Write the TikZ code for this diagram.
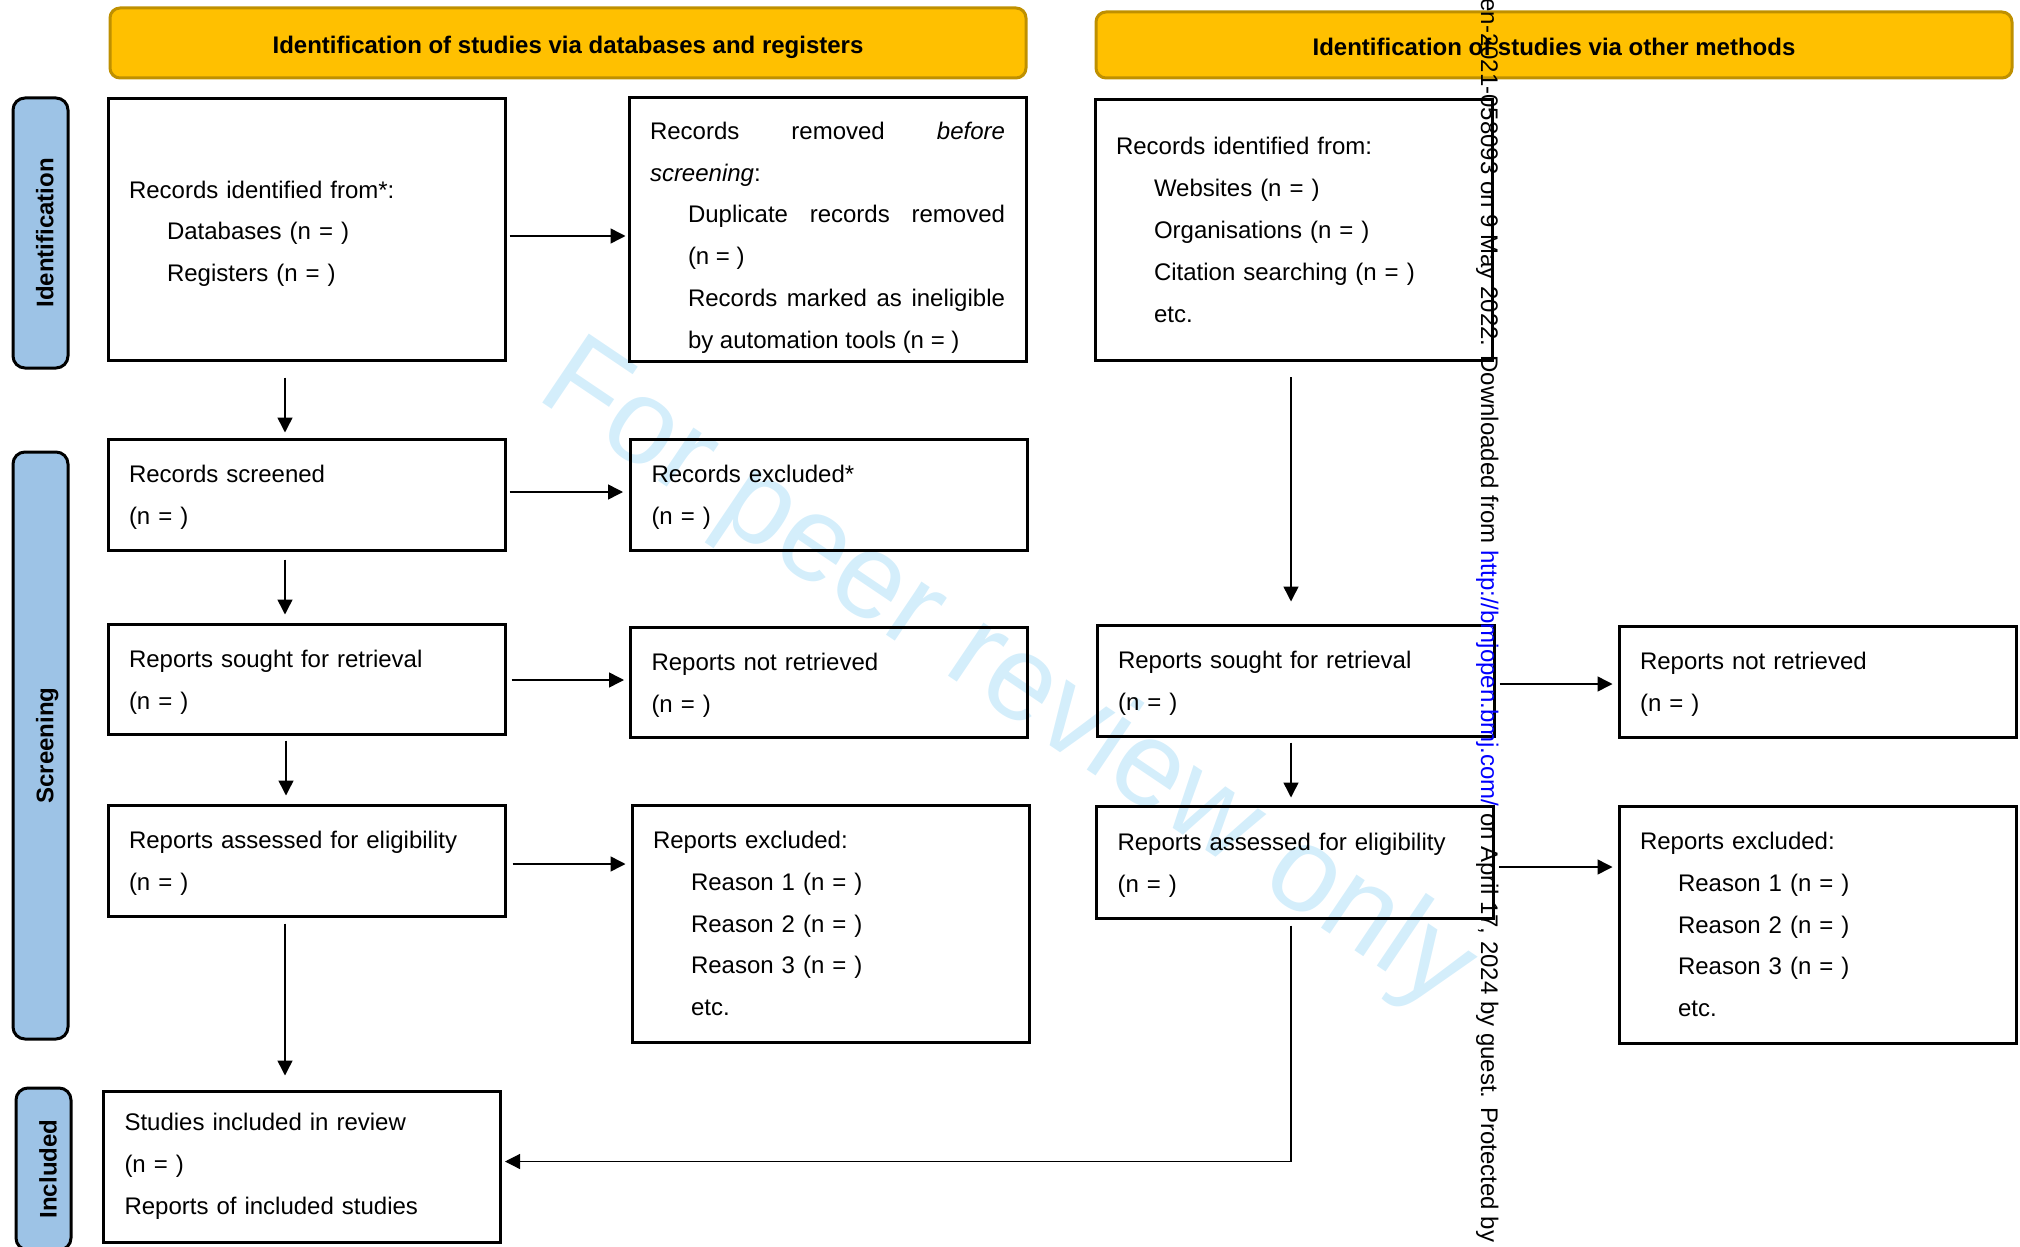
\documentclass[tikz,border=0pt]{standalone}
\usepackage{fontspec}
\setmainfont{Liberation Sans}
\usetikzlibrary{arrows.meta}
\definecolor{HeaderGold}{HTML}{FFC000}
\definecolor{HeaderEdge}{HTML}{BF9000}
\definecolor{PhaseBlue}{HTML}{9DC3E6}
\definecolor{StampBlue}{HTML}{D4EEFB}
\setlength{\parindent}{0pt}
\hyphenpenalty=10000
\exhyphenpenalty=10000
\tolerance=10000
\newcommand{\indented}[1]{\hspace*{19pt}#1}

\begin{document}
\begin{tikzpicture}[x=0.5pt, y=-0.5pt,
    box/.style={draw, line width=1.5pt, text width=177.5pt, inner xsep=10.5pt, inner ysep=4pt, align=left, font=\fontsize{12pt}{20.9pt}\selectfont},
    nudge/.style={execute at begin node={\rule{0pt}{#1}}},
    header/.style={draw=HeaderEdge, fill=HeaderGold, line width=1.5pt, rounded corners=5pt, minimum width=458pt, text height=12.8pt, text depth=2.6pt, font=\bfseries\fontsize{12pt}{14pt}\selectfont},
    phase/.style={draw, fill=PhaseBlue, line width=1.5pt, rounded corners=6pt, rotate=90, minimum height=27.5pt, text height=13pt, text depth=0pt, font=\bfseries\fontsize{12pt}{14pt}\selectfont},
    arr/.style={-{Triangle[length=7.5pt,width=7.5pt]}, line width=0.75pt},
    stamp/.style={text=StampBlue, rotate=-34, font=\fontsize{60.5pt}{62pt}\selectfont}
  ]
  \useasboundingbox (0,0) rectangle (2020,1247);

  % watermark behind everything
  \node[stamp] (stampNote) at (1006,678) {For peer review only};

  % headers and phase labels
  \node[header, minimum height=35pt] (headDb) at (568,43) {Identification of studies via databases and registers};
  \node[header, minimum height=33pt] (headOther) at (1554,45) {Identification of studies via other methods};

  \node[phase, minimum width=135pt] (phaseId) at (40.5,233) {Identification};
  \node[phase, minimum width=293.5pt] (phaseScreen) at (40.5,745.5) {Screening};
  \node[phase, minimum width=81pt] (phaseIncl) at (43.5,1169) {Included};

  % databases and registers
  \node[box, nudge=12.8pt, minimum height=130.5pt] (recId) at (306.5,229.5) {Records identified from*:\\ \indented{Databases (n = )}\\ \indented{Registers (n = )}};
  \node[box, nudge=16.8pt, align=justify, minimum height=130.5pt] (recRemoved) at (827.5,229.5) {Records removed \textit{before screening}:\par
    {\leftskip=19pt Duplicate records removed (n~=~)\par
    Records marked as ineligible by automation tools (n~=~)\par}};
  \node[box, nudge=11.8pt, minimum height=55.5pt] (recScreened) at (306.5,494.5) {Records screened\\(n = )};
  \node[box, nudge=11.8pt, minimum height=55.5pt] (recExcluded) at (829,494.5) {Records excluded*\\(n = )};
  \node[box, nudge=11.8pt, minimum height=55pt] (repSought) at (306.5,679) {Reports sought for retrieval\\(n = )};
  \node[box, nudge=11.8pt, minimum height=55pt] (repNotRet) at (829,682) {Reports not retrieved\\(n = )};
  \node[box, nudge=11.8pt, minimum height=55.5pt] (repAssessed) at (306.5,860.5) {Reports assessed for eligibility\\(n = )};
  \node[box, minimum height=118.5pt] (repExcluded) at (830.5,923.5) {Reports excluded:\\ \indented{Reason 1 (n = )}\\ \indented{Reason 2 (n = )}\\ \indented{Reason 3 (n = )}\\ \indented{etc.}};
  \node[box, minimum height=75.5pt] (included) at (302,1166.5) {Studies included in review\\(n = )\\Reports of included studies};

  % other methods
  \node[box, minimum height=130.5pt] (othId) at (1293.5,230) {Records identified from:\\ \indented{Websites (n = )}\\ \indented{Organisations (n = )}\\ \indented{Citation searching (n = )}\\ \indented{etc.}};
  \node[box, nudge=11.8pt, minimum height=55.5pt] (othSought) at (1295.5,680.5) {Reports sought for retrieval\\(n = )};
  \node[box, nudge=11.8pt, minimum height=55.5pt] (othNotRet) at (1817.5,681.5) {Reports not retrieved\\(n = )};
  \node[box, nudge=11.8pt, minimum height=56pt] (othAssessed) at (1295,862) {Reports assessed for eligibility\\(n = )};
  \node[box, minimum height=118.5pt] (othExcluded) at (1817.5,924.5) {Reports excluded:\\ \indented{Reason 1 (n = )}\\ \indented{Reason 2 (n = )}\\ \indented{Reason 3 (n = )}\\ \indented{etc.}};

  % connectors
  \draw[arr] ([xshift=1.5pt,yshift=-3.25pt]recId.east) -- ([xshift=-1pt,yshift=-3.25pt]recRemoved.west);
  \draw[arr] ([xshift=1.5pt,yshift=1.25pt]recScreened.east) -- ([xshift=-3pt,yshift=1.25pt]recExcluded.west);
  \draw[arr] ([xshift=2.5pt,yshift=-0.5pt]repSought.east) -- ([xshift=-2.5pt,yshift=1pt]repNotRet.west);
  \draw[arr] ([xshift=3pt,yshift=-1.75pt]repAssessed.east) -- ([xshift=-2.5pt,yshift=29.75pt]repExcluded.west);
  \draw[arr] ([xshift=-10.75pt,yshift=-8pt]recId.south) -- ([xshift=-10.75pt,yshift=2.5pt]recScreened.north);
  \draw[arr] ([xshift=-10.75pt,yshift=-4pt]recScreened.south) -- ([xshift=-10.75pt,yshift=4pt]repSought.north);
  \draw[arr] ([xshift=-10.25pt,yshift=-2.5pt]repSought.south) -- ([xshift=-10.25pt,yshift=4pt]repAssessed.north);
  \draw[arr] ([xshift=-10.75pt,yshift=-3pt]repAssessed.south) -- ([xshift=-8.5pt,yshift=7pt]included.north);

  \draw[arr] ([xshift=-1.25pt,yshift=-7.5pt]othId.south) -- ([xshift=-2.25pt,yshift=11pt]othSought.north);
  \draw[arr] ([xshift=-2.25pt,yshift=-2.5pt]othSought.south) -- ([xshift=-2pt,yshift=3.5pt]othAssessed.north);
  \draw[arr] ([xshift=2pt,yshift=-1.75pt]othSought.east) -- ([xshift=-2.5pt,yshift=-1.25pt]othNotRet.west);
  \draw[arr] ([xshift=2pt,yshift=-2.5pt]othAssessed.east) -- ([xshift=-2.5pt,yshift=28.75pt]othExcluded.west);
  \draw[arr, line width=0.6pt] ([xshift=-2pt,yshift=-3pt]othAssessed.south) |- ([xshift=1.5pt,yshift=2.5pt]included.east);

  % download note on top
  \node[rotate=-90, anchor=base west, inner sep=0pt, font=\fontsize{12pt}{14pt}\selectfont] (dlNote) at (1481,-2) {en-2021-058093 on 9 May 2022. Downloaded from \textcolor{blue}{http://bmjopen.bmj.com/} on April 17, 2024 by guest. Protected by};
\end{tikzpicture}
\end{document}
